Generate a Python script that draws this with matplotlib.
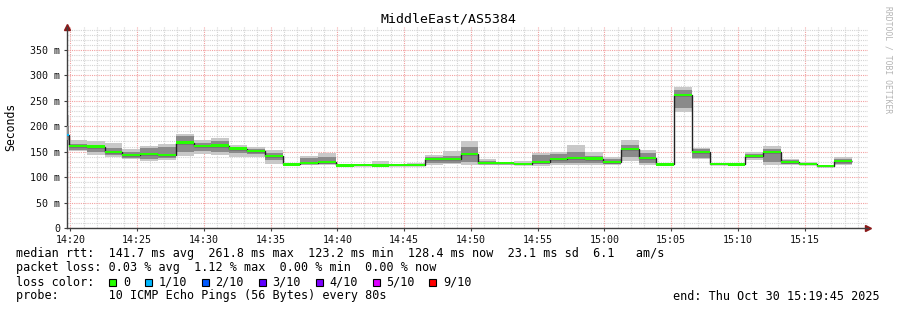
import numpy as np
import pandas as pd
import matplotlib
matplotlib.use("Agg")
import matplotlib.pyplot as plt
import matplotlib.dates as mdates
from matplotlib.patches import Rectangle
from matplotlib.ticker import MultipleLocator, FuncFormatter

# --- data (ms), one value per 80 s step; first step is a short partial one
win_start = "2025-10-30 14:19:45"
win_end = "2025-10-30 15:19:45"
first_full = "2025-10-30 14:19:54"

median = [183, 161, 160, 149, 144, 145, 144, 168, 161, 162, 156, 151, 142, 125,
          128, 129, 123, 124, 123, 124, 124, 136, 136, 145.5, 128, 127, 126.5,
          129, 135, 137, 136.5, 130, 155, 138, 125, 262, 149, 126, 125, 141.5,
          149.5, 130, 126, 122, 131.7]
outer_lo = [163, 151, 143, 140, 136, 132, 134, 141, 145, 143, 140, 140, 126, 123,
            123, 123, 121, 122, 122, 122, 122, 124, 125, 124, 124, 124, 124,
            122, 123, 124, 124, 124, 131, 124, 123, 227, 135, 124, 123, 134,
            124, 123, 123, 121, 124]
outer_hi = [222, 172, 170, 167, 155, 161, 166, 185, 172, 177, 163, 159, 153, 128,
            142, 148, 126, 126, 131, 126, 127, 143, 151, 171, 135, 129, 131,
            148, 150, 163, 149, 140, 172, 153, 127, 278, 158, 128, 127, 150,
            161, 136, 130, 124, 140]
inner_lo = [172, 153, 150, 143, 138, 135, 138, 150, 152, 150, 148, 145, 133, 124,
            126, 126, 122, 123, 122, 123, 123, 128, 128, 130, 125, 125, 125,
            126, 128, 128, 128, 126, 140, 128, 124, 235, 138, 125, 124, 137,
            130, 125, 124, 122, 126]
inner_hi = [200, 165, 163, 158, 150, 158, 160, 180, 168, 170, 160, 155, 148, 127,
            137, 140, 125, 125, 125, 125, 125, 140, 142, 160, 131, 128, 128,
            143, 145, 150, 142, 136, 163, 147, 126, 272, 155, 127, 126, 146,
            155, 133, 127, 123, 136]
loss = [1] + [0] * 44  # lost pings out of 10

loss_labels = ["0", "1/10", "2/10", "3/10", "4/10", "5/10", "9/10"]
loss_levels = [0, 1, 2, 3, 4, 5, 9]
loss_colors = ["#26ff00", "#00b8ff", "#0059ff", "#5e00ff", "#7e00ff", "#dd00ff", "#ff0000"]

title = "MiddleEast/AS5384"
rtt_line = "median rtt:  141.7 ms avg  261.8 ms max  123.2 ms min  128.4 ms now  23.1 ms sd  6.1   am/s"
loss_line = "packet loss: 0.03 % avg  1.12 % max  0.00 % min  0.00 % now"
probe_line = "probe:       10 ICMP Echo Pings (56 Bytes) every 80s"
end_line = "end: Thu Oct 30 15:19:45 2025"

# step edges
edges = [pd.Timestamp(win_start)] + list(pd.date_range(first_full, periods=len(median), freq="80s"))
edges = mdates.date2num(pd.DatetimeIndex(edges).to_pydatetime())
median = np.array(median, dtype=float)

mono = "DejaVu Sans Mono"
W, H = 897, 310
fig = plt.figure(figsize=(W / 100, H / 100), dpi=100)
fig.patch.set_facecolor("white")
ax = fig.add_axes([67 / W, (H - 228) / H, 801 / W, (228 - 27) / H])

# smoke
ax.stairs(outer_hi, edges, baseline=outer_lo, fill=True, color="#c8c8c8", lw=0, zorder=2)
ax.stairs(inner_hi, edges, baseline=inner_lo, fill=True, color="#8a8a8a", lw=0, zorder=3)
# median line + loss coloured band
ax.stairs(median, edges, baseline=None, color="#202020", lw=1.0, zorder=4)
cmap = dict(zip(loss_levels, loss_colors))
for i, m in enumerate(median):
    ax.stairs([m + 2.2], edges[i:i + 2], baseline=[m - 2.2], fill=True,
              color=cmap[loss[i]], lw=0, zorder=5)

# axes
ax.set_xlim(mdates.date2num(pd.Timestamp(win_start)), mdates.date2num(pd.Timestamp(win_end)))
ax.set_ylim(0, 395)
ax.xaxis.set_major_locator(mdates.MinuteLocator(byminute=range(0, 60, 5)))
ax.xaxis.set_minor_locator(mdates.MinuteLocator())
ax.xaxis.set_major_formatter(mdates.DateFormatter("%H:%M"))
ax.yaxis.set_major_locator(MultipleLocator(50))
ax.yaxis.set_minor_locator(MultipleLocator(10))
ax.yaxis.set_major_formatter(FuncFormatter(lambda v, p: "0" if v == 0 else f"{v:.0f} m"))

ax.grid(which="minor", color="#d4d4d4", linestyle=(0, (1, 1)), lw=0.8, zorder=0)
ax.grid(which="major", color="#f2a0a0", linestyle=(0, (1, 1)), lw=0.8, zorder=1)
ax.set_axisbelow(True)
ax.tick_params(which="major", length=2, width=0.8, color="#404040", pad=3,
               labelsize=7.2, labelcolor="#101010")
ax.tick_params(which="minor", length=0)
for lab in ax.get_xticklabels() + ax.get_yticklabels():
    lab.set_family(mono)
for s in ["top", "right"]:
    ax.spines[s].set_visible(False)
for s in ["left", "bottom"]:
    ax.spines[s].set_color("#404040")
    ax.spines[s].set_linewidth(1)
ax.plot([0], [1.0], marker="^", ms=4, color="#8b1a1a", transform=ax.transAxes, clip_on=False)
ax.plot([1.0], [0], marker=">", ms=4, color="#8b1a1a", transform=ax.transAxes, clip_on=False)

# texts
fig.text(448 / W, 1 - 19 / H, title, family=mono, size=9.5, ha="center", va="center")
fig.text(11 / W, 1 - 127 / H, "Seconds", family=mono, size=8.3, rotation=90,
         ha="center", va="center")
fig.text(888 / W, 1 - 60 / H, "RRDTOOL / TOBI OETIKER", family=mono, size=5.8,
         rotation=270, ha="center", va="center", color="#b4b4b4")

cw = 7.12  # character width in px
x0 = 16
fs = 8.5
fig.text(x0 / W, 1 - 254 / H, rtt_line, family=mono, size=fs, va="center")
fig.text(x0 / W, 1 - 268 / H, loss_line, family=mono, size=fs, va="center")
fig.text(x0 / W, 1 - 296 / H, probe_line, family=mono, size=fs, va="center")
fig.text(880 / W, 1 - 296 / H, end_line, family=mono, size=fs, va="center", ha="right")

fig.text(x0 / W, 1 - 282 / H, "loss color:", family=mono, size=fs, va="center")
col = 13
for lab, c in zip(loss_labels, loss_colors):
    bx = x0 + col * cw
    fig.add_artist(Rectangle(((bx + 0.5) / W, 1 - 286 / H), 7 / W, 7 / H,
                             transform=fig.transFigure, facecolor=c,
                             edgecolor="black", lw=0.8))
    fig.text((bx + 2 * cw) / W, 1 - 282 / H, lab, family=mono, size=fs, va="center")
    col += 2 + len(lab) + 2

fig.savefig("out.png", dpi=100)
